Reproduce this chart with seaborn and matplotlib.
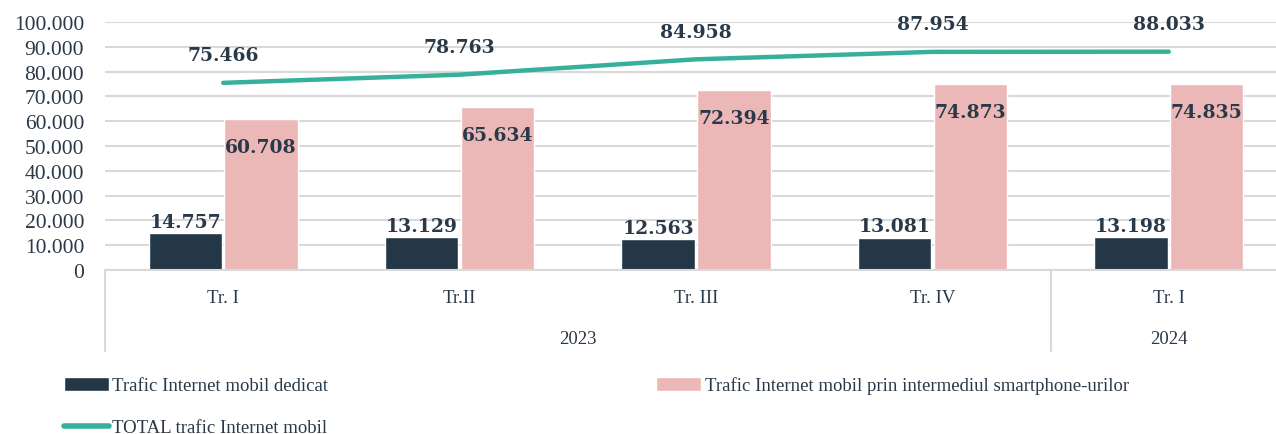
import matplotlib
matplotlib.use("Agg")
import matplotlib.pyplot as plt
import seaborn as sns
import pandas as pd
import numpy as np
from matplotlib.patches import Patch
from matplotlib.lines import Line2D

quarters = ["Tr. I", "Tr.II", "Tr. III", "Tr. IV", "Tr. I"]
years = ["2023", "2023", "2023", "2023", "2024"]
dedicat = [14757, 13129, 12563, 13081, 13198]
smartphone = [60708, 65634, 72394, 74873, 74835]
total = [75466, 78763, 84958, 87954, 88033]

lbl_ded = "Trafic Internet mobil dedicat"
lbl_sm = "Trafic Internet mobil prin intermediul smartphone-urilor"
lbl_tot = "TOTAL trafic Internet mobil"

c_dark = "#243746"
c_pink = "#ECB8B7"
c_teal = "#36B09B"
c_text = "#2a3948"
c_grid = "#d9d9d9"

sns.set_theme(style="white")
plt.rcParams["font.family"] = ["Liberation Serif", "DejaVu Serif"]

keys = [f"{y} {q} {i}" for i, (y, q) in enumerate(zip(years, quarters))]
df = pd.DataFrame({
    "key": keys * 2,
    "value": dedicat + smartphone,
    "serie": [lbl_ded] * len(keys) + [lbl_sm] * len(keys),
})

fig = plt.figure(figsize=(12.76, 4.35), dpi=100)
W, H = 1276, 435
ax = fig.add_axes([105 / W, (H - 271) / H, (1287 - 105) / W, (271 - 23) / H])

gw = 0.64
sns.barplot(data=df, x="key", y="value", hue="serie", order=keys,
            hue_order=[lbl_ded, lbl_sm], palette=[c_dark, c_pink], saturation=1,
            width=gw, gap=0.03, ax=ax, legend=False, zorder=2)
xpos = np.arange(len(keys))
sns.lineplot(x=xpos, y=total, color=c_teal, linewidth=3.2, ax=ax,
             solid_capstyle="round", zorder=3)

ax.set_xlim(-0.5, len(keys) - 0.5)
ax.set_ylim(0, 100000)
ax.set_yticks(np.arange(0, 100001, 10000))
ax.set_yticklabels([f"{int(v):,}".replace(",", ".") for v in np.arange(0, 100001, 10000)],
                   fontsize=15.5, color=c_text)
ax.set_xticks(xpos)
ax.set_xticklabels(quarters, fontsize=13.5, color=c_text)
ax.tick_params(axis="x", length=0, pad=14)
ax.tick_params(axis="y", length=0, pad=15)
ax.set_xlabel("")
ax.set_ylabel("")
ax.grid(axis="y", color=c_grid, linewidth=1.5, zorder=0)
ax.set_axisbelow(True)
for s in ["top", "right", "left"]:
    ax.spines[s].set_visible(False)
ax.spines["bottom"].set_color(c_grid)
ax.spines["bottom"].set_linewidth(1.5)

fmt = lambda v: f"{v:,}".replace(",", ".")
bw = gw / 2
for i in range(len(keys)):
    xd = i - bw / 2
    xs = i + bw / 2
    ax.annotate(fmt(dedicat[i]), (xd, dedicat[i]), xytext=(0, 1.5), textcoords="offset points",
                ha="center", va="bottom", fontsize=13.5, fontweight="bold", color=c_text,
                family=["DejaVu Serif"])
    ax.annotate(fmt(smartphone[i]), (xs, smartphone[i]), xytext=(0, -20), textcoords="offset points",
                ha="center", va="center", fontsize=13.5, fontweight="bold", color=c_text,
                family=["DejaVu Serif"])
    ax.annotate(fmt(total[i]), (i, total[i]), xytext=(0, 20), textcoords="offset points",
                ha="center", va="center", fontsize=13.5, fontweight="bold", color=c_text,
                family=["DejaVu Serif"])

# year group labels and separators
trans = ax.get_xaxis_transform()
for xv in [-0.5, 3.5]:
    ax.add_line(Line2D([xv, xv], [0, -81 / 248], transform=trans, color=c_grid,
                       linewidth=1.5, clip_on=False))
year_groups = []
for y in dict.fromkeys(years):
    idx = [i for i, yy in enumerate(years) if yy == y]
    year_groups.append((y, (idx[0] + idx[-1]) / 2))
for y, xc in year_groups:
    ax.text(xc, -69 / 248, y, transform=trans, ha="center", va="center",
            fontsize=13.5, color=c_text)

handles = [Patch(facecolor=c_dark, label=lbl_ded),
           Line2D([0], [0], color=c_teal, linewidth=4, solid_capstyle="round", label=lbl_tot),
           Patch(facecolor=c_pink, label=lbl_sm)]
leg = fig.legend(handles=handles, ncol=2, loc="upper left", bbox_to_anchor=(56 / W, (H - 370) / H),
                 frameon=False, fontsize=13.5, handlelength=2.4, handleheight=0.8,
                 handletextpad=0.2, columnspacing=17.5, labelspacing=1.3, borderaxespad=0)
for t in leg.get_texts():
    t.set_color(c_text)

fig.savefig("out.png", dpi=100)
